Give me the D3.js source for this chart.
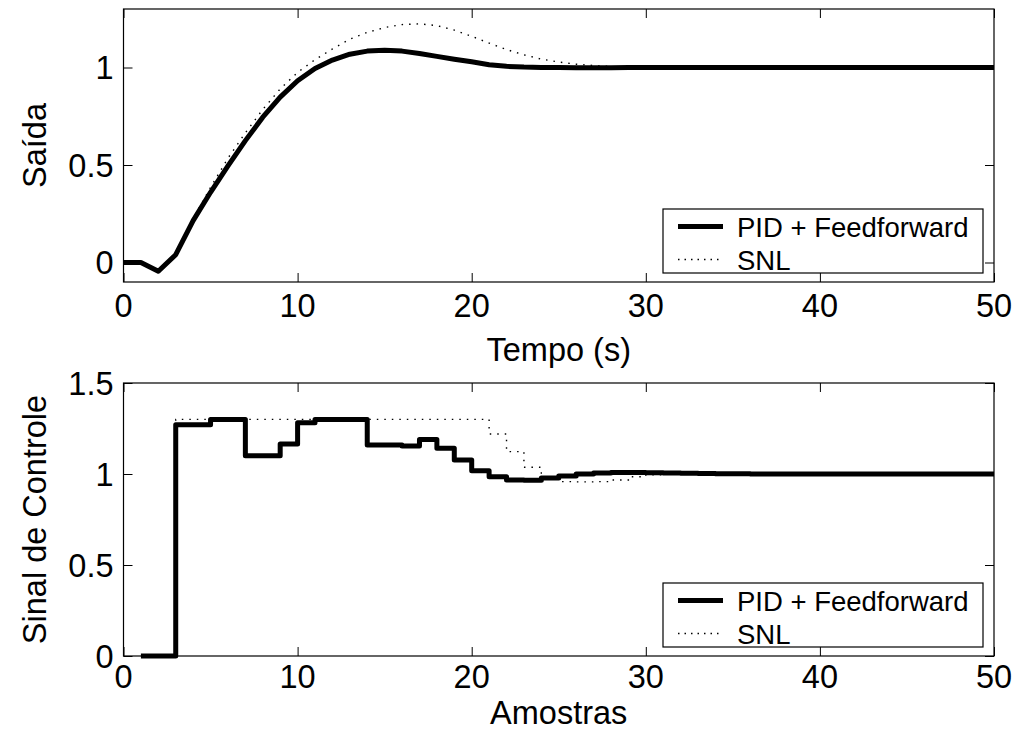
<!DOCTYPE html>
<html>
<head>
<meta charset="utf-8">
<script src="https://cdn.jsdelivr.net/npm/d3@7"></script>
<style>
  html, body { margin: 0; padding: 0; background: #fff; }
  svg { display: block; }
  text { font-family: "Liberation Sans", Arial, Helvetica, sans-serif; fill: #000; }
</style>
</head>
<body>
<svg id="chart" width="1018" height="736"></svg>
<script>
// ---------- data ----------
const tempo = d3.range(0, 51); // 0..50 s
const saidaPID = [0, 0, -0.045, 0.04, 0.215, 0.36, 0.495, 0.625, 0.745, 0.848, 0.932,
  0.995, 1.038, 1.068, 1.084, 1.089, 1.084, 1.072, 1.057, 1.042, 1.029,
  1.014, 1.006, 1.002, 1.0, 1.0, 0.999, 0.999, 0.999, 1.0, 1.0,
  1.0, 1.0, 1.0, 1.0, 1.0, 1.0, 1.0, 1.0, 1.0, 1.0,
  1.0, 1.0, 1.0, 1.0, 1.0, 1.0, 1.0, 1.0, 1.0, 1.0];
const saidaSNL = [0, 0, -0.045, 0.04, 0.225, 0.385, 0.535, 0.665, 0.785, 0.89, 0.975,
  1.04, 1.095, 1.145, 1.18, 1.205, 1.22, 1.224, 1.215, 1.192, 1.16,
  1.125, 1.092, 1.065, 1.043, 1.028, 1.017, 1.01, 1.005, 1.002, 1.0,
  1.0, 1.0, 1.0, 1.0, 1.0, 1.0, 1.0, 1.0, 1.0, 1.0,
  1.0, 1.0, 1.0, 1.0, 1.0, 1.0, 1.0, 1.0, 1.0, 1.0];

const amostras = d3.range(1, 51); // 1..50
const controlePID = [0, 0, 1.27, 1.27, 1.30, 1.30, 1.10, 1.10, 1.165, 1.282,
  1.30, 1.30, 1.30, 1.16, 1.16, 1.154, 1.19, 1.142, 1.077, 1.018,
  0.985, 0.967, 0.966, 0.978, 0.989, 1.0, 1.006, 1.008, 1.008, 1.007,
  1.005, 1.004, 1.003, 1.002, 1.001, 1.0, 1.0, 1.0, 1.0, 1.0,
  1.0, 1.0, 1.0, 1.0, 1.0, 1.0, 1.0, 1.0, 1.0, 1.0];
const controleSNL = [0, 0, 1.30, 1.30, 1.30, 1.30, 1.30, 1.30, 1.30, 1.30,
  1.30, 1.30, 1.30, 1.30, 1.30, 1.30, 1.30, 1.30, 1.30, 1.30,
  1.22, 1.123, 1.037, 0.975, 0.958, 0.957, 0.958, 0.967, 0.985, 0.996,
  1.0, 1.0, 1.0, 1.0, 1.0, 1.0, 1.0, 1.0, 1.0, 1.0,
  1.0, 1.0, 1.0, 1.0, 1.0, 1.0, 1.0, 1.0, 1.0, 1.0];

const xTicks = [0, 10, 20, 30, 40, 50];
const yTicksTop = [0, 0.5, 1];
const yTicksBottom = [0, 0.5, 1, 1.5];
const legendLabels = ["PID + Feedforward", "SNL"];

// ---------- layout ----------
const svg = d3.select("#chart");
const FS = 32.5;
const LFS = 27.5;
const left = 123.5, right = 994;

function drawPanel(cfg) {
  const x = d3.scaleLinear().domain([0, 50]).range([left, right]);
  const y = d3.scaleLinear().domain(cfg.yDomain).range([cfg.bottom, cfg.top]);
  const g = svg.append("g");

  // data lines
  const line = d3.line().x(d => x(d[0])).y(d => y(d[1])).curve(cfg.curve);
  g.append("path")
    .datum(cfg.xs.map((v, i) => [v, cfg.s2[i]]))
    .attr("d", line).attr("fill", "none").attr("stroke", "#000")
    .attr("stroke-width", 1.4).attr("stroke-dasharray", "1.5,6");
  g.append("path")
    .datum(cfg.xs.map((v, i) => [v, cfg.s1[i]]))
    .attr("d", line).attr("fill", "none").attr("stroke", "#000")
    .attr("stroke-width", 5).attr("stroke-linejoin", "round").attr("stroke-linecap", "butt");

  // axes with inward ticks (box style)
  const tl = 9;
  const axB = d3.axisBottom(x).tickValues(xTicks).tickSize(-tl).tickFormat("");
  const axT = d3.axisTop(x).tickValues(xTicks).tickSize(-tl).tickFormat("");
  const axL = d3.axisLeft(y).tickValues(cfg.yTicks).tickSize(-tl).tickFormat("");
  const axR = d3.axisRight(y).tickValues(cfg.yTicks).tickSize(-tl).tickFormat("");
  [[axB, `translate(0,${cfg.bottom})`], [axT, `translate(0,${cfg.top})`],
   [axL, `translate(${left},0)`], [axR, `translate(${right},0)`]].forEach(([ax, tr]) => {
    const a = g.append("g").attr("transform", tr).call(ax);
    a.select(".domain").remove();
    a.selectAll("line").attr("stroke", "#000").attr("stroke-width", 1);
  });
  g.append("rect").attr("x", left).attr("y", cfg.top)
    .attr("width", right - left).attr("height", cfg.bottom - cfg.top)
    .attr("fill", "none").attr("stroke", "#000").attr("stroke-width", 1.2);

  // tick labels
  g.selectAll(".xl").data(xTicks).enter().append("text")
    .attr("x", d => x(d)).attr("y", cfg.bottom + cfg.xTickOff)
    .attr("text-anchor", "middle").attr("font-size", FS).text(d => d);
  g.selectAll(".yl").data(cfg.yTicks).enter().append("text")
    .attr("x", left - 10).attr("y", d => y(d) + 11.5)
    .attr("text-anchor", "end").attr("font-size", FS).text(d => d);

  // axis labels
  g.append("text").attr("x", (left + right) / 2).attr("y", cfg.xLabelY)
    .attr("text-anchor", "middle").attr("font-size", FS).text(cfg.xLabel);
  g.append("text")
    .attr("transform", `translate(46,${(cfg.top + cfg.bottom) / 2}) rotate(-90)`)
    .attr("text-anchor", "middle").attr("font-size", FS).text(cfg.yLabel);

  // legend
  const lx = 663, lw = 320, lh = 64, ly = cfg.bottom - 9 - lh;
  const lg = g.append("g");
  lg.append("rect").attr("x", lx).attr("y", ly).attr("width", lw).attr("height", lh)
    .attr("fill", "#fff").attr("stroke", "#000").attr("stroke-width", 1.2);
  legendLabels.forEach((lab, i) => {
    const cy = ly + 17.5 + i * 33;
    lg.append("line").attr("x1", lx + 15).attr("x2", lx + 60).attr("y1", cy).attr("y2", cy)
      .attr("stroke", "#000")
      .attr("stroke-width", i === 0 ? 5 : 1.4)
      .attr("stroke-dasharray", i === 0 ? null : "1.5,5");
    lg.append("text").attr("x", lx + 74).attr("y", cy + 10)
      .attr("font-size", LFS).text(lab);
  });
}

drawPanel({
  top: 9, bottom: 282, yDomain: [-0.1, 1.3], yTicks: yTicksTop,
  xs: tempo, s1: saidaPID, s2: saidaSNL, curve: d3.curveLinear,
  xTickOff: 34.5, xLabel: "Tempo (s)", xLabelY: 361, yLabel: "Saída"
});
drawPanel({
  top: 383, bottom: 656, yDomain: [0, 1.5], yTicks: yTicksBottom,
  xs: amostras, s1: controlePID, s2: controleSNL, curve: d3.curveStepAfter,
  xTickOff: 31.5, xLabel: "Amostras", xLabelY: 724, yLabel: "Sinal de Controle"
});
</script>
</body>
</html>
